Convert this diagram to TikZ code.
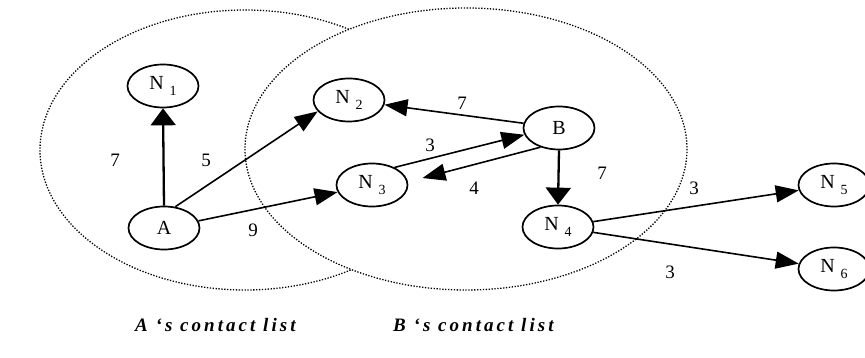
\documentclass[tikz,border=0pt]{standalone}
\usepackage{fontspec}
\setmainfont{Liberation Serif}
\newfontfamily\listfont[LetterSpace=16]{Liberation Serif}
\usetikzlibrary{arrows.meta,positioning,shapes.geometric}

\newcommand{\peername}[1]{N\hspace{6pt}\raisebox{-6pt}{\fontsize{14}{14}\selectfont #1}}

\begin{document}
\begin{tikzpicture}[x=1pt,y=-1pt,
    peer/.style={ellipse,draw,line width=1.7pt,minimum width=71pt,minimum height=43pt,inner sep=0pt,font=\fontsize{20}{20}\selectfont},
    link/.style={line width=1.6pt,-{Triangle[length=23pt,width=17pt]}},
    boldlink/.style={line width=2.3pt,-{Triangle[length=17pt,width=25pt]}},
    cost/.style={inner sep=0pt,font=\fontsize{19}{19}\selectfont},
    contact/.style={dash pattern=on 1.3pt off 1.6pt,line width=1.3pt},
    listname/.style={inner sep=0pt,font=\listfont\bfseries\itshape\fontsize{19}{19}\selectfont}]
    \useasboundingbox (0,0) rectangle (865,358);

    % contact lists
    \draw[contact] (245,150) ellipse [x radius=205, y radius=140];
    \filldraw[contact,fill=white] (466,149) ellipse [x radius=221, y radius=141];

    % peers
    \node[peer] (a) at (164,228) {A};
    \node[peer] (b) at (559,128) {B};
    \node[peer] (n1) at (163,86) {\peername{1}};
    \node[peer] (n2) at (349,100) {\peername{2}};
    \node[peer] (n3) at (372,185) {\peername{3}};
    \node[peer] (n4) at (558,227) {\peername{4}};
    \node[peer] (n5) at (834,185) {\peername{5}};
    \node[peer] (n6) at (834,269) {\peername{6}};

    % links
    \draw[boldlink] (a.north) -- (n1.south);
    \draw[link] (a.62) -- (n2.200);
    \draw[link] (a) -- (n3);
    \draw[link] (b) -- (n2);
    \draw[link] (n3.38) -- (b.191);
    \draw[link,shorten >=15pt] (b.226) -- (n3.5);
    \draw[boldlink] (b.south) -- (n4.north);
    \draw[link] (n4) -- (n5);
    \draw[link] (n4) -- (n6);

    % costs
    \node[cost] (c1) at (115,160) {7};
    \node[cost] (c2) at (206,160) {5};
    \node[cost] (c3) at (253,230) {9};
    \node[cost] (c4) at (462,103) {7};
    \node[cost] (c5) at (430,145) {3};
    \node[cost] (c6) at (474,188) {4};
    \node[cost] (c7) at (602,173) {7};
    \node[cost] (c8) at (694,188) {3};
    \node[cost] (c9) at (670,272) {3};

    \node[listname,anchor=base west] (lista) at (135,331) {A ‘s contact list};
    \node[listname,anchor=base west] (listb) at (393,331) {B ‘s contact list};
\end{tikzpicture}
\end{document}
